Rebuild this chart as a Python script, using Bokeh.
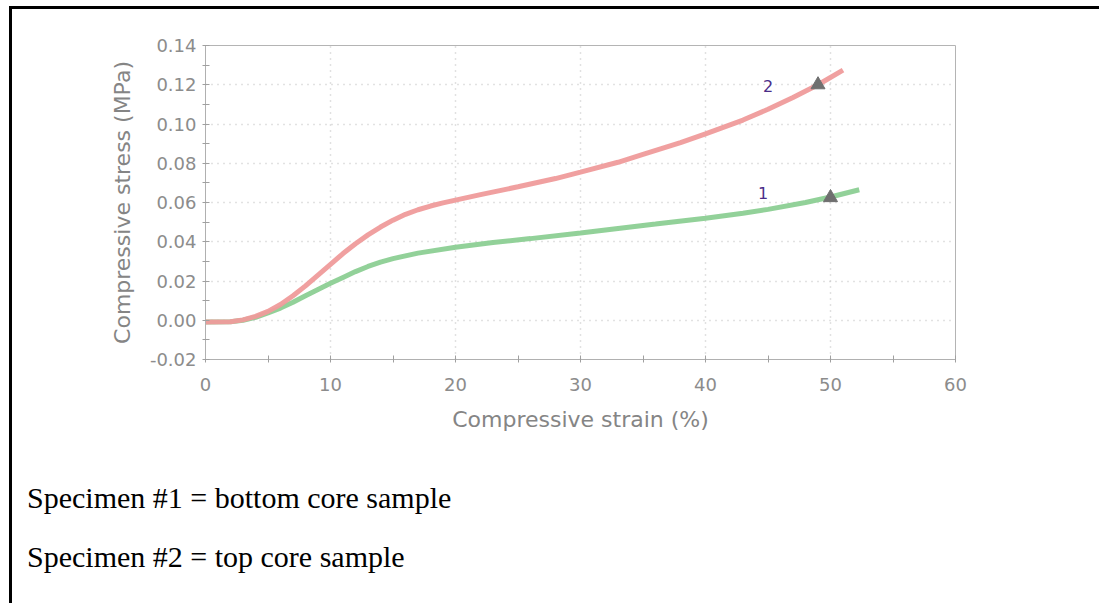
from bokeh.plotting import figure
from bokeh.models import (FixedTicker, NumeralTickFormatter, Range1d, ColumnDataSource,
                          Div, Column)
from bokeh.core.properties import value
from bokeh.embed import file_html
from bokeh.resources import INLINE

# ---- data ----
strain_2 = [0, 2, 3, 4, 5, 6, 7, 8, 9, 10, 11, 12, 13, 14, 15, 16, 17, 18, 19, 20, 22,
            25, 28, 30, 33, 35, 38, 40, 43, 45, 47, 49, 51]
stress_2 = [-0.0009, -0.0008, 0.0002, 0.002, 0.0045, 0.008, 0.0125, 0.0175, 0.023,
            0.0285, 0.034, 0.039, 0.0435, 0.0475, 0.051, 0.054, 0.0563, 0.0582,
            0.0598, 0.0612, 0.0640, 0.0680, 0.0722, 0.0755, 0.0805, 0.0845, 0.0905,
            0.0950, 0.1020, 0.1075, 0.1135, 0.1200, 0.1275]

strain_1 = [0, 2, 3, 4, 5, 6, 7, 8, 9, 10, 11, 12, 13, 14, 15, 17, 20, 23, 26, 30, 33,
            36, 40, 43, 45, 48, 50, 52.3]
stress_1 = [-0.0009, -0.0008, 0.0, 0.0015, 0.0038, 0.0062, 0.0092, 0.0125, 0.0157,
            0.0188, 0.0218, 0.0248, 0.0274, 0.0296, 0.0314, 0.0342, 0.0372, 0.0396,
            0.0416, 0.0445, 0.0468, 0.0490, 0.0520, 0.0545, 0.0565, 0.0600, 0.0628,
            0.0665]

end_markers_x = [49.0, 50.0]
end_markers_y = [0.1200, 0.0625]
curve_labels = ["2", "1"]
curve_label_x = [45.0, 44.6]
curve_label_y = [0.1195, 0.0650]

x_ticks = [0, 10, 20, 30, 40, 50, 60]
x_minor = [5, 15, 25, 35, 45, 55]
y_ticks = [-0.02, 0.0, 0.02, 0.04, 0.06, 0.08, 0.10, 0.12, 0.14]
y_minor = [-0.01, 0.01, 0.03, 0.05, 0.07, 0.09, 0.11, 0.13]
notes = ["Specimen #1 = bottom core sample", "Specimen #2 = top core sample"]

W, H = 1099, 603
OFF_X, OFF_Y = 12, 9          # page frame: margin + 3px black line
FW = W - OFF_X
FIG_BOTTOM = 359 + 84         # absolute y where the figure ends
FIG_H = FIG_BOTTOM - OFF_Y
FL, FR, FT, FB = 205 - OFF_X, 955 - OFF_X, 45 - OFF_Y, 359 - OFF_Y

p = figure(width=FW, height=FIG_H, output_backend="svg", toolbar_location=None,
           x_range=Range1d(0, 60), y_range=Range1d(-0.02, 0.14),
           min_border_left=FL, min_border_right=FW - FR,
           min_border_top=FT, min_border_bottom=FIG_H - FB)
p.background_fill_color = "white"
p.border_fill_color = "white"
p.outline_line_color = "#b4b4b4"
p.outline_line_width = 1

tick_col = "#8c8c8c"
for ax in (p.xaxis[0], p.yaxis[0]):
    ax.axis_line_color = "#b0b0b0"
    ax.major_tick_line_color = "#a0a0a0"
    ax.minor_tick_line_color = "#a0a0a0"
    ax.major_tick_in = 4
    ax.major_tick_out = 3
    ax.minor_tick_in = 4
    ax.minor_tick_out = 3
    ax.major_label_text_font = "DejaVu Sans"
    ax.major_label_text_font_size = "18px"
    ax.major_label_text_color = tick_col
    ax.axis_label_text_font = "DejaVu Sans"
    ax.axis_label_text_font_size = "22px"
    ax.axis_label_text_font_style = "normal"
    ax.axis_label_text_color = "#858585"

p.xaxis.ticker = FixedTicker(ticks=x_ticks, minor_ticks=x_minor)
p.yaxis.ticker = FixedTicker(ticks=y_ticks, minor_ticks=y_minor)
p.yaxis.formatter = NumeralTickFormatter(format="0.00")
p.xaxis.axis_label = "Compressive strain (%)"
p.yaxis.axis_label = "Compressive stress (MPa)"
p.xaxis.major_label_standoff = 15
p.yaxis.major_label_standoff = 6
p.xaxis.axis_label_standoff = 13
p.yaxis.axis_label_standoff = 12

p.grid.grid_line_color = "#c4c4c4"
p.grid.grid_line_dash = "1 5"
p.grid.grid_line_width = 1.5

p.line(strain_1, stress_1, line_color="#8ccf94", line_width=5, line_alpha=0.95)
p.line(strain_2, stress_2, line_color="#ef9b9b", line_width=5, line_alpha=0.95)

p.scatter(end_markers_x, end_markers_y, marker="triangle", size=14,
          fill_color="#6f6f6f", line_color="#6f6f6f")

src = ColumnDataSource(dict(x=curve_label_x, y=curve_label_y, t=curve_labels))
p.text(x="x", y="y", text="t", source=src, text_color="#4b2d88",
       text_font_size="16px", text_align="center", text_baseline="middle",
       text_font=value("DejaVu Sans"))

# notes below the chart
DIV_H = H - FIG_BOTTOM
spans = []
for i, t in enumerate(notes):
    top = (503 - FIG_BOTTOM) - 25 + 59 * i
    spans.append(f'<span style="position:absolute;left:{22 - OFF_X}px;top:{top}px;'
                 f'white-space:nowrap;">{t}</span>')
div = Div(text="".join(spans), width=FW, height=DIV_H,
          styles={"font-family": "'Liberation Serif', 'Times New Roman', serif",
                  "font-size": "30px", "line-height": "30px", "color": "black",
                  "position": "relative"})

layout = Column(children=[p, div], margin=(6, 0, 0, 9), spacing=0,
                styles={"border-left": "3px solid black", "border-top": "3px solid black"})

open("out.html", "w").write(file_html(layout, INLINE))
